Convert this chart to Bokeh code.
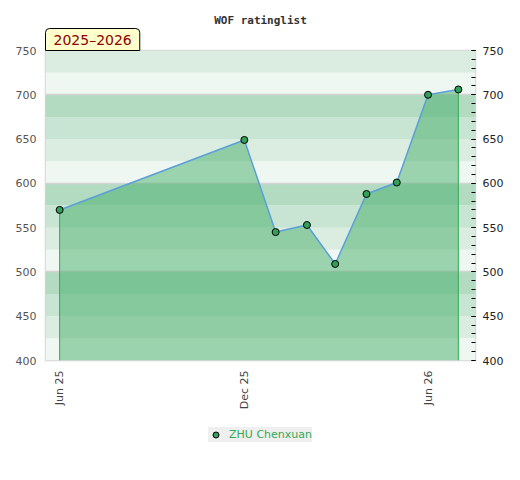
import math
import pandas as pd
from bokeh.plotting import figure
from bokeh.layouts import column
from bokeh.models import (Range1d, LinearAxis, SingleIntervalTicker, FixedTicker,
                          DatetimeTickFormatter, BoxAnnotation, Title, Legend, LegendItem)
from bokeh.embed import file_html
from bokeh.resources import INLINE

# ---- data ----
title_text = "WOF ratinglist"
season_text = "2025–2026"
player = "ZHU Chenxuan"
dates = ["2025-06-01", "2025-12-01", "2026-01-01", "2026-02-01", "2026-03-01",
         "2026-04-01", "2026-05-01", "2026-06-01", "2026-07-01"]
ratings = [570, 649, 545, 553, 509, 588, 601, 700, 706]
x_tick_dates = ["2025-06-01", "2025-12-01", "2026-06-01"]
y_min, y_max = 400, 750

xs = pd.to_datetime(dates)
x_start = pd.Timestamp("2025-05-18")
x_end = pd.Timestamp("2026-07-18")

marker_style = dict(size=7, fill_color="#33a05a", line_color="black", line_width=1)

p = figure(width=520, height=420, x_axis_type="datetime",
           x_range=Range1d(x_start, x_end), y_range=Range1d(y_min, y_max),
           min_border_left=45, min_border_right=45, min_border_top=50, min_border_bottom=60,
           output_backend="svg", toolbar_location=None,
           background_fill_color="white", border_fill_color="white")

p.outline_line_color = "#d6d6d6"
p.outline_line_width = 1.5

# background bands
band_colors = {0: "#eef7f1", 25: "#dbede1", 50: "#c7e5d2", 75: "#b3dbc2"}
for b in range(y_min, y_max, 25):
    p.add_layout(BoxAnnotation(bottom=b, top=b + 25, fill_color=band_colors[b % 100],
                               fill_alpha=1, line_alpha=0, level="image"))

# grid
p.xgrid.visible = False
p.ygrid.ticker = FixedTicker(ticks=[500, 600, 700])
p.ygrid.grid_line_color = "#d4d4d4"
p.ygrid.grid_line_width = 1.5

# area
p.varea(x=xs, y1=y_min, y2=ratings, fill_color="#3cab61", fill_alpha=0.47)
p.segment(x0=[xs[0], xs[-1]], y0=[y_min, y_min], x1=[xs[0], xs[-1]],
          y1=[ratings[0], ratings[-1]], line_color="#33aa55", line_width=1)
p.line(xs, ratings, line_color="#5b9fd8", line_width=1.5)
pts = p.scatter(xs, ratings, **marker_style)

# axes
p.yaxis.ticker = SingleIntervalTicker(interval=50, num_minor_ticks=5)
p.yaxis.major_tick_in = 0
p.yaxis.major_tick_out = 0
p.yaxis.minor_tick_in = 0
p.yaxis.minor_tick_out = 0
p.yaxis.axis_line_color = None
p.yaxis.major_label_text_font = "DejaVu Sans"
p.yaxis.major_label_text_font_size = "11px"
p.yaxis.major_label_text_color = "#555555"
p.yaxis.major_label_standoff = 9

ry = LinearAxis(ticker=SingleIntervalTicker(interval=50, num_minor_ticks=5))
ry.axis_line_color = None
ry.major_tick_in = 4
ry.major_tick_out = 0
ry.minor_tick_in = 4
ry.minor_tick_out = 0
ry.major_tick_line_color = "black"
ry.minor_tick_line_color = "black"
ry.major_label_text_font = "DejaVu Sans"
ry.major_label_text_font_size = "11px"
ry.major_label_text_color = "#222222"
ry.major_label_standoff = 7
p.add_layout(ry, "right")

fmt = "%b %y"
p.xaxis.ticker = FixedTicker(ticks=[pd.Timestamp(d).value // 10**6 for d in x_tick_dates])
p.xaxis.formatter = DatetimeTickFormatter(microseconds=fmt, milliseconds=fmt, seconds=fmt,
                                          minsec=fmt, minutes=fmt, hourmin=fmt, hours=fmt,
                                          days=fmt, months=fmt, years=fmt)
p.xaxis.major_label_orientation = math.pi / 2
p.xaxis.major_tick_in = 0
p.xaxis.major_tick_out = 0
p.xaxis.minor_tick_in = 0
p.xaxis.minor_tick_out = 0
p.xaxis.axis_line_color = None
p.xaxis.major_label_text_font = "DejaVu Sans"
p.xaxis.major_label_text_font_size = "11px"
p.xaxis.major_label_text_color = "#444444"
p.xaxis.major_label_standoff = 10

# season tag (nearest the frame) and title (outermost)
p.add_layout(Title(text=season_text, align="left", standoff=0, offset=0,
                   text_font="DejaVu Sans", text_font_size="14px", text_color="#8f0000",
                   text_font_style="normal",
                   background_fill_color="#ffffcc", background_fill_alpha=1,
                   border_line_color="black", border_line_width=1,
                   padding=(8, 3), border_radius=(4, 4, 0, 0)), "above")
p.add_layout(Title(text=title_text, align="center", standoff=0,
                   text_font="DejaVu Sans Mono", text_font_style="bold",
                   text_font_size="11px", text_color="#333333"), "above")

# legend strip below the chart (its key renderer uses the same series; the
# points fall outside this strip's range so only the legend entry is visible)
q = figure(width=520, height=60, x_range=(0, 1), y_range=(0, 1),
           min_border=0, output_backend="svg", toolbar_location=None,
           background_fill_color="white", border_fill_color="white")
q.axis.visible = False
q.grid.visible = False
q.outline_line_color = None
key = q.scatter(xs, ratings, **marker_style)
legend = Legend(items=[LegendItem(label=player, renderers=[key])], location="top_center",
                orientation="horizontal", margin=7, padding=5, spacing=0,
                glyph_width=15, glyph_height=15, label_standoff=6,
                label_text_font="DejaVu Sans", label_text_font_size="11px",
                label_text_color="#33aa55", label_height=15,
                background_fill_color="#efefef", background_fill_alpha=1,
                border_line_color=None)
q.add_layout(legend)

open("out.html", "w").write(file_html(column(p, q, spacing=0), INLINE))
